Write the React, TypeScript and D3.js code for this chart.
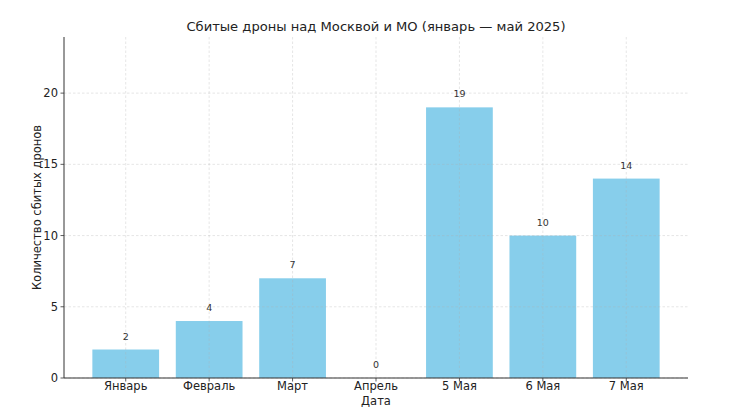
import React from "react";
import * as d3 from "d3";

const categories = ["Январь", "Февраль", "Март", "Апрель", "5 Мая", "6 Мая", "7 Мая"];
const values = [2, 4, 7, 0, 19, 10, 14];
const yTicks = [0, 5, 10, 15, 20];
const title = "Сбитые дроны над Москвой и МО (январь — май 2025)";
const xLabel = "Дата";
const yLabel = "Количество сбитых дронов";

export default function App() {
  const W = 735, H = 413;
  const left = 64, right = 688, top = 37, bottom = 378;
  const n = categories.length;
  const x = d3.scaleLinear().domain([-0.74, n - 1 + 0.74]).range([left, right]);
  const y = d3.scaleLinear().domain([0, 23.94]).range([bottom, top]);
  const bw = x(0.4) - x(-0.4);
  const font = "DejaVu Sans, sans-serif";
  const gridColor = "#b0b0b0";
  return (
    <svg width={W} height={H} style={{ position: "absolute", left: 0, top: 0, background: "#fff" }} fontFamily={font}>
      {values.map((v, i) => (
        <rect key={i} x={x(i) - bw / 2} y={y(v)} width={bw} height={bottom - y(v)} fill="#87CEEB" />
      ))}
      {categories.map((c, i) => (
        <line key={"gx" + i} x1={x(i)} x2={x(i)} y1={top} y2={bottom} stroke={gridColor} strokeOpacity={0.45} strokeWidth={0.7} strokeDasharray="2.5,2" />
      ))}
      {yTicks.map((t) => (
        <line key={"gy" + t} x1={left} x2={right} y1={y(t)} y2={y(t)} stroke={gridColor} strokeOpacity={0.45} strokeWidth={0.7} strokeDasharray="2.5,2" />
      ))}
      {values.map((v, i) => (
        <text key={"l" + i} x={x(i)} y={y(v) - 10} textAnchor="middle" fontSize={9.5} fill="#333">{v}</text>
      ))}
      <line x1={left} x2={left} y1={top} y2={bottom} stroke="#333" strokeWidth={1} />
      <line x1={left} x2={right} y1={bottom} y2={bottom} stroke="#333" strokeWidth={1} />
      {yTicks.map((t) => (
        <g key={"ty" + t}>
          <line x1={left - 3.5} x2={left} y1={y(t)} y2={y(t)} stroke="#333" strokeWidth={0.8} />
          <text x={left - 6} y={y(t)} dy="0.35em" textAnchor="end" fontSize={11.5} fill="#222">{t}</text>
        </g>
      ))}
      {categories.map((c, i) => (
        <g key={"tx" + i}>
          <line x1={x(i)} x2={x(i)} y1={bottom} y2={bottom + 3.5} stroke="#333" strokeWidth={0.8} />
          <text x={x(i)} y={bottom + 8} dy="0.35em" textAnchor="middle" fontSize={11.5} fill="#222">{c}</text>
        </g>
      ))}
      <text x={(left + right) / 2} y={401} dy="0.35em" textAnchor="middle" fontSize={11.5} fill="#222">{xLabel}</text>
      <text transform={`translate(37,${(top + bottom) / 2}) rotate(-90)`} dy="0.35em" textAnchor="middle" fontSize={11.5} fill="#222">{yLabel}</text>
      <text x={(left + right) / 2} y={26} dy="0.35em" textAnchor="middle" fontSize={13.1} fill="#222">{title}</text>
    </svg>
  );
}
